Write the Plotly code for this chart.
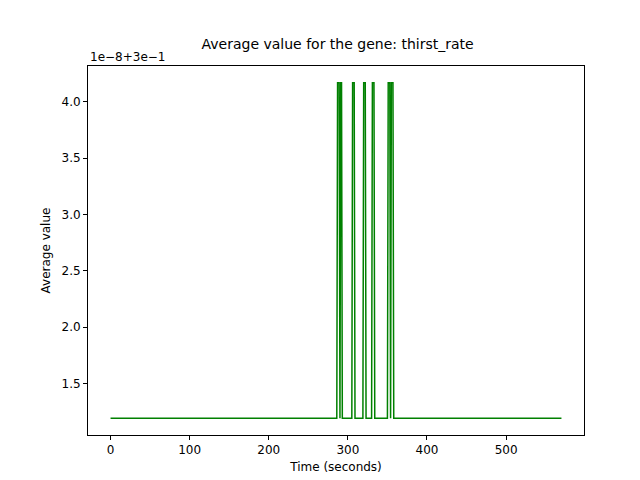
import plotly.graph_objects as go

# values shown as offset: value = 3e-1 + 1e-8 * y
time_s = [0, 286, 287, 289, 290, 291, 292, 293, 305, 306, 308, 309, 319, 320, 322, 323,
          330, 331, 333, 334, 350, 351, 353, 354, 355, 357, 358, 570]
avg_val = [1.19, 1.19, 4.17, 4.17, 1.19, 4.17, 4.17, 1.19, 1.19, 4.17, 4.17, 1.19, 1.19, 4.17,
           4.17, 1.19, 1.19, 4.17, 4.17, 1.19, 1.19, 4.17, 4.17, 1.19, 4.17, 4.17, 1.19, 1.19]
y_ticks = [1.5, 2.0, 2.5, 3.0, 3.5, 4.0]
x_ticks = [0, 100, 200, 300, 400, 500]

fig = go.Figure(go.Scatter(x=time_s, y=avg_val, mode='lines',
                           line=dict(color='green', width=1.5)))

axis_style = dict(showline=True, linecolor='black', linewidth=1, mirror=True,
                  ticks='outside', ticklen=4, tickcolor='black', showgrid=False,
                  zeroline=False, automargin=False, tickfont=dict(size=12, color='black'))

fig.update_layout(
    width=640, height=480,
    paper_bgcolor='white', plot_bgcolor='white',
    font=dict(family='DejaVu Sans', color='black'),
    margin=dict(l=80, r=64, t=58, b=53, autoexpand=False),
    showlegend=False,
    title=dict(text='Average value for the gene: thirst_rate', x=0.515, xanchor='center',
               y=0.925, yanchor='middle', font=dict(size=14)),
    xaxis=dict(range=[-28.5, 598.5], tickvals=x_ticks,
               title=dict(text='Time (seconds)', font=dict(size=12), standoff=6), **axis_style),
    yaxis=dict(range=[1.041, 4.319], tickvals=y_ticks, tickformat='.1f',
               title=dict(text='Average value', font=dict(size=12), standoff=8), **axis_style),
)
fig.add_annotation(text='1e\u22128+3e\u22121', xref='paper', yref='paper', x=0, y=1.0,
                   xanchor='left', yanchor='bottom', showarrow=False, font=dict(size=12))

fig.write_html("out.html")
